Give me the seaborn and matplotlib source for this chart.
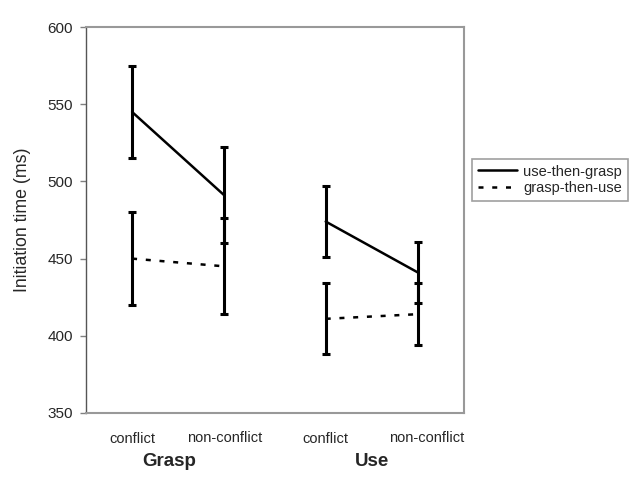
import numpy as np
import pandas as pd
import matplotlib
matplotlib.use("Agg")
import matplotlib.pyplot as plt
import matplotlib.transforms as mtransforms
import seaborn as sns
from matplotlib.lines import Line2D

# data
tasks = ["Grasp", "Grasp", "Use", "Use"]
conditions = ["conflict", "non-conflict", "conflict", "non-conflict"]
x_pos = [0, 1, 2.1, 3.1]
use_then_grasp = [545, 491, 474, 441]
use_then_grasp_err = [30, 31, 23, 20]
grasp_then_use = [450, 445, 411, 414]
grasp_then_use_err = [30, 31, 23, 20]
orders = ["use-then-grasp", "grasp-then-use"]

df = pd.DataFrame({
    "x": x_pos * 2,
    "task": tasks * 2,
    "rt": use_then_grasp + grasp_then_use,
    "err": use_then_grasp_err + grasp_then_use_err,
    "order": [orders[0]] * 4 + [orders[1]] * 4,
})

sns.set_theme(style="white")
plt.rcParams["font.family"] = ["Liberation Sans", "DejaVu Sans"]

fig = plt.figure(figsize=(6.29, 4.98), dpi=100)
ax = fig.add_axes([0.1367, 0.1707, 0.601, 0.775])

sns.lineplot(data=df, x="x", y="rt", hue="order", style="order",
             units="task", estimator=None, ax=ax, legend=False,
             palette={orders[0]: "black", orders[1]: "black"},
             dashes={orders[0]: "", orders[1]: (2, 3.5)},
             linewidth=1.8)

ax.errorbar(df["x"], df["rt"], yerr=df["err"], fmt="none", ecolor="black",
            elinewidth=2.2, capsize=3, capthick=2.2)

ax.set_xlim(-0.5, 3.6)
ax.set_ylim(350, 600)
ax.set_yticks(np.arange(350, 601, 50))
ax.set_xticks(x_pos)
ax.set_xticklabels(conditions)
ax.tick_params(axis="x", length=0, pad=14, labelsize=10.5)
ax.tick_params(axis="y", left=True, length=4.3, width=1, color="#808080",
               labelsize=11, pad=5)
for lab in ax.get_xticklabels()[1::2]:
    lab.set_y(0.005)
# last label sits a bit right of its point in the original
last = ax.get_xticklabels()[-1]
last.set_transform(last.get_transform() +
                   mtransforms.ScaledTranslation(0.09, 0, fig.dpi_scale_trans))
ax.set_xlabel("")
ax.set_ylabel("Initiation time (ms)", fontsize=12.8, labelpad=12)

for name, side in ax.spines.items():
    side.set_visible(True)
    side.set_color("#999999")
    side.set_linewidth(1.5)
ax.spines["left"].set_color("#555555")
ax.spines["left"].set_linewidth(1)

# group labels
for gx, gname in zip([0.4, 2.6], ["Grasp", "Use"]):
    ax.text(gx, -0.125, gname, transform=ax.get_xaxis_transform(),
            ha="center", va="center", fontsize=13.5, fontweight="bold")

handles = [Line2D([], [], color="black", lw=1.8),
           Line2D([], [], color="black", lw=1.8, dashes=(2, 3.5))]
leg = fig.legend(handles, orders, loc="center left",
                 bbox_to_anchor=(472 / 629, 1 - 180 / 498),
                 frameon=True, fancybox=False, fontsize=10.5,
                 handlelength=2.7, borderaxespad=0, borderpad=0.4,
                 labelspacing=0.2, handletextpad=0.4)
leg.get_frame().set_edgecolor("#888888")
leg.get_frame().set_linewidth(1.2)

fig.savefig("out.png", dpi=100)
